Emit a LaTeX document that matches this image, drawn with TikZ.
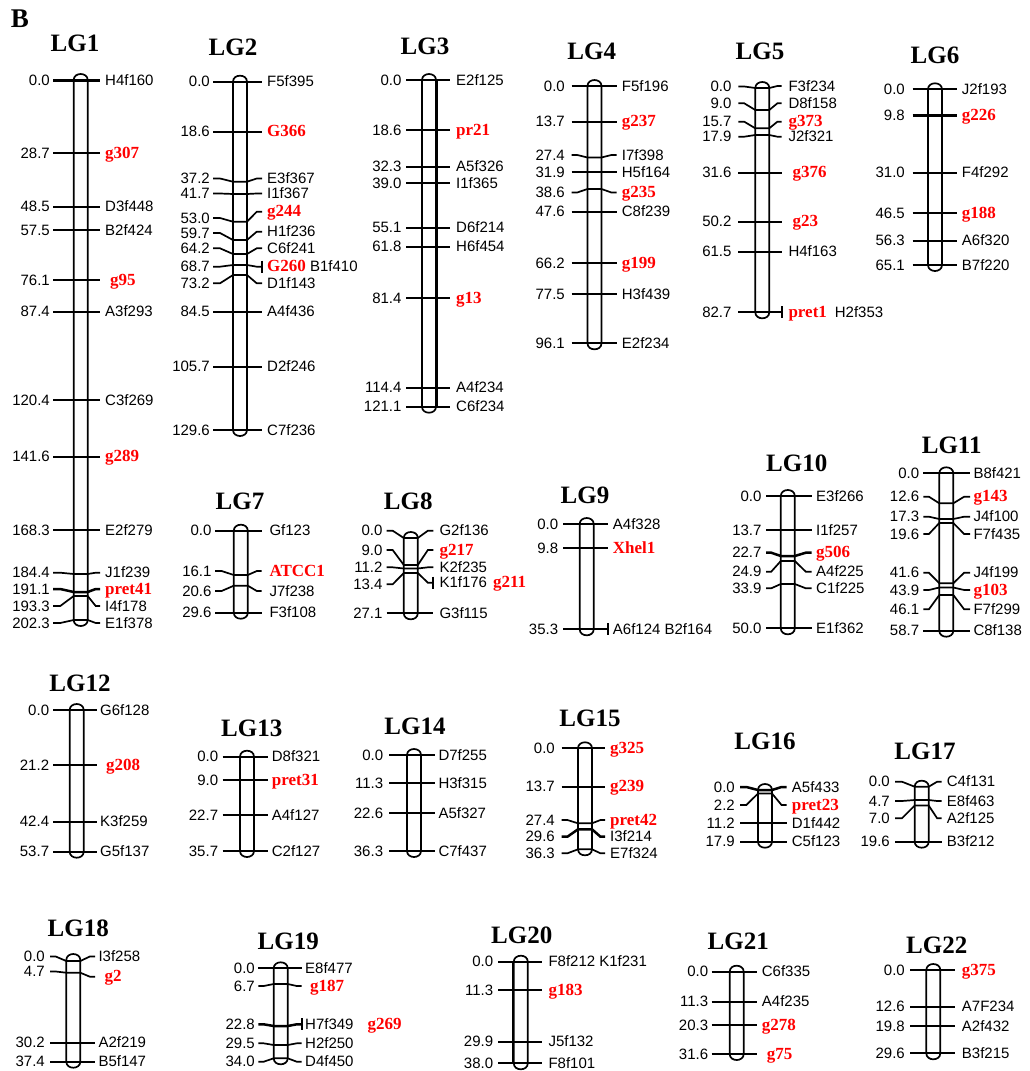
\documentclass[tikz,border=0pt]{standalone}
\usepackage{fontspec}
\setmainfont{Liberation Serif}
\newfontfamily\labfont{Liberation Sans}
\newcounter{mkc}
\tikzset{
 barline/.style={line width=1.7pt},
 tickline/.style={line width=1.7pt},
 thk/.style={line width=3pt},
 lab/.style={inner sep=0pt, text height=10pt, text depth=0pt, font=\labfont\fontsize{15}{15}\selectfont},
 ttl/.style={inner sep=0pt, text height=16pt, text depth=0pt, font=\bfseries\fontsize{25}{25}\selectfont},
}
\newcommand\rd[1]{{\rmfamily\bfseries\fontsize{17}{17}\selectfont\color{red}#1}}
\newcommand\setLG[5]{\def\cx{#1}\def\xa{#2}\def\xo{#3}\def\xt{#4}\def\xb{#5}}
\newcommand\chbar[2]{%
 \draw[barline] ({\cx-7},#1) -- ({\cx-7},#2) .. controls ({\cx-7},{#2+8}) and ({\cx+7},{#2+8}) .. ({\cx+7},#2) -- ({\cx+7},#1) .. controls ({\cx+7},{#1-8}) and ({\cx-7},{#1-8}) .. cycle;}
\newcommand\mk[6][]{%
 \stepcounter{mkc}\edef\nm{\arabic{mkc}}%
 \draw[tickline,#1] (\xo,#3) -- ({\xo+0.35*(\cx-7-\xo)},#3) -- ({\cx-7},#2) -- ({\cx+7},#2) -- ({\xt-0.35*(\xt-\cx-7)},#4) -- (\xt,#4);
 \node[lab,anchor=east] (L\nm) at (\xa,#3) {#5};
 \node[lab,anchor=west] (R\nm) at (\xb,#4) {#6};}
\newcommand\mks[4][]{\mk[#1]{#2}{#2}{#2}{#3}{#4}}
\newcommand\vb[1]{\draw[tickline] (\xt,{#1-6}) -- (\xt,{#1+6});}
\begin{document}
\begin{tikzpicture}[x=1pt,y=-1pt]
\useasboundingbox (0,0) rectangle (1029,1071);
\fill[white] (0,0) rectangle (1029,1071);
\node[inner sep=0pt, text height=18pt, text depth=0pt, font=\bfseries\fontsize{27}{27}\selectfont] (B) at (20,18) {B};
% LG1
\setLG{80.7}{50}{53}{100}{105}
\node[ttl] (T1) at (75,43) {LG1};
\chbar{80}{620}
\mks[thk]{80}{0.0}{H4f160}
\mks{153.3}{28.7}{\rd{g307}}
\mks{206.7}{48.5}{D3f448}
\mks{230}{57.5}{B2f424}
\mks{280}{76.1}{\hspace{5pt}\rd{g95}}
\mks{311.7}{87.4}{A3f293}
\mks{400}{120.4}{C3f269}
\mks{456.7}{141.6}{\rd{g289}}
\mks{530}{168.3}{E2f279}
\mk{574}{572.7}{572.7}{184.4}{J1f239}
\mk[line width=2.5pt]{592}{589}{589}{191.1}{\rd{pret41}}
\mk{596}{606}{606}{193.3}{I4f178}
\mk{620}{623}{623}{202.3}{E1f378}
% LG2
\setLG{240}{210}{213}{262}{267}
\node[ttl] (T2) at (233,47) {LG2};
\chbar{81.7}{430}
\mks{81.7}{0.0}{F5f395}
\mks{131.7}{18.6}{\rd{G366}}
\mk{181.7}{178.5}{178.5}{37.2}{E3f367}
\mk{194}{193.5}{193.5}{41.7}{I1f367}
\mk{221.7}{218}{211.7}{53.0}{\rd{g244}}
\mk{240}{233}{231.7}{59.7}{H1f236}
\mk{254}{248.3}{248.3}{64.2}{C6f241}
\mk{265}{266.7}{266.7}{68.7}{\rd{G260} B1f410}
\vb{266.7}
\mk{275}{283.3}{283.3}{73.2}{D1f143}
\mks{311.7}{84.5}{A4f436}
\mks{366.7}{105.7}{D2f246}
\mks{430}{129.6}{C7f236}
% LG3
\setLG{429}{401.7}{406}{450}{456}
\node[ttl] (T3) at (425,46.7) {LG3};
\chbar{80}{406.7}
\draw[line width=1.5pt] (437.5,80) -- (437.5,406.7);
\mks{80}{0.0}{E2f125}
\mks{130}{18.6}{\rd{pr21}}
\mks{166.7}{32.3}{A5f326}
\mks{183.3}{39.0}{I1f365}
\mks{227.7}{55.1}{D6f214}
\mks{246.7}{61.8}{H6f454}
\mks{298.3}{81.4}{\rd{g13}}
\mks{387.7}{114.4}{A4f234}
\mks{406.7}{121.1}{C6f234}
% LG4
\setLG{594.5}{565}{571.7}{616.7}{621.7}
\node[ttl] (T4) at (591.7,51.7) {LG4};
\chbar{86}{343.3}
\mks{86}{0.0}{F5f196}
\mks{121.7}{13.7}{\rd{g237}}
\mk{157.5}{155}{155}{27.4}{I7f398}
\mks{172.3}{31.9}{H5f164}
\mk{189}{192.5}{192.5}{38.6}{\rd{g235}}
\mks{211.7}{47.6}{C8f239}
\mks{263.3}{66.2}{\rd{g199}}
\mks{294}{77.5}{H3f439}
\mks{343.3}{96.1}{E2f234}
% LG5
\setLG{762.3}{731.7}{738.3}{781.7}{788.3}
\node[ttl] (T5) at (760,51.7) {LG5};
\chbar{88}{312.3}
\mk{88}{86.5}{86}{0.0}{F3f234}
\mk{110}{103.3}{103.3}{9.0}{D8f158}
\mk{128.3}{121.7}{121.7}{15.7}{\rd{g373}}
\mk{135}{136.7}{136.7}{17.9}{J2f321}
\mks{172.7}{31.6}{\hspace{4pt}\rd{g376}}
\mks{221.7}{50.2}{\hspace{4pt}\rd{g23}}
\mks{251.7}{61.5}{H4f163}
\mks{312.3}{82.7}{\rd{pret1}\hspace{8pt}H2f353}
\vb{312.3}
% LG6
\setLG{935}{905}{912.7}{956.7}{961.7}
\node[ttl] (T6) at (935,55) {LG6};
\chbar{89.3}{265}
\mks{89.3}{0.0}{J2f193}
\mks[thk]{115}{9.8}{\rd{g226}}
\mks{172.7}{31.0}{F4f292}
\mks{213.3}{46.5}{\rd{g188}}
\mks{240.7}{56.3}{A6f320}
\mks{265}{65.1}{B7f220}
% LG7
\setLG{240.8}{211.7}{215}{261.7}{269.3}
\node[ttl] (T7) at (240,501.7) {LG7};
\chbar{530.7}{612.7}
\mks{530.7}{0.0}{Gf123}
\mk{575}{571}{571}{16.1}{\rd{ATCC1}}
\mk{585.7}{591}{591}{20.6}{J7f238}
\mks{612.7}{29.6}{F3f108}
% LG8
\setLG{410.8}{382.7}{386.7}{433.3}{439.3}
\node[ttl] (T8) at (408.3,501.7) {LG8};
\chbar{538}{613.3}
\mk{538}{530.7}{530.7}{0.0}{G2f136}
\mk{565}{550}{550}{9.0}{\rd{g217}}
\mk{568.5}{567.3}{567.3}{11.2}{K2f235}
\mk{573}{584.3}{582.7}{13.4}{K1f176\hspace{6pt}\rd{g211}}
\vb{582.7}
\mks{613.3}{27.1}{G3f115}
% LG9
\setLG{586.7}{558.3}{563.3}{608.3}{612.7}
\node[ttl] (T9) at (585,495) {LG9};
\chbar{524}{629.3}
\mks{524}{0.0}{A4f328}
\mks{548.3}{9.8}{\rd{Xhel1}}
\mks{629.3}{35.3}{A6f124 B2f164}
\vb{629.3}
% LG10
\setLG{787.8}{761.7}{766}{811.7}{816}
\node[ttl] (T10) at (796.7,463.3) {LG10};
\chbar{496}{628.3}
\mks{496}{0.0}{E3f266}
\mks{530}{13.7}{I1f257}
\mk[line width=2.5pt]{556}{552.7}{552.7}{22.7}{\rd{g506}}
\mk{561}{571.7}{571.7}{24.9}{A4f225}
\mk{584}{588.3}{588.3}{33.9}{C1f225}
\mks{628.3}{50.0}{E1f362}
% LG11
\setLG{946.3}{919.3}{923.3}{970}{973.3}
\node[ttl] (T11) at (951.7,445) {LG11};
\chbar{473.3}{630.7}
\mks{473.3}{0.0}{B8f421}
\mk{503.3}{496.7}{496.7}{12.6}{\rd{g143}}
\mk{519}{516.7}{516.7}{17.3}{J4f100}
\mk{523}{534}{534}{19.6}{F7f435}
\mk{583.3}{572.7}{572.7}{41.6}{J4f199}
\mk{587.5}{590}{590}{43.9}{\rd{g103}}
\mk{595}{609.3}{609.3}{46.1}{F7f299}
\mks{630.7}{58.7}{C8f138}
% LG12
\setLG{76.7}{49.3}{53.3}{96.7}{100}
\node[ttl] (T12) at (80,683.3) {LG12};
\chbar{710}{851.7}
\mks{710}{0.0}{G6f128}
\mks{765}{21.2}{\hspace{6pt}\rd{g208}}
\mks{821.7}{42.4}{K3f259}
\mks{851.7}{53.7}{G5f137}
% LG13
\setLG{247}{218.3}{222.7}{268.3}{271.7}
\node[ttl] (T13) at (251.7,728.3) {LG13};
\chbar{756.7}{851}
\mks{756.7}{0.0}{D8f321}
\mks{780}{9.0}{\rd{pret31}}
\mks{815}{22.7}{A4f127}
\mks{851}{35.7}{C2f127}
% LG14
\setLG{414}{383.3}{389.3}{435}{438.3}
\node[ttl] (T14) at (415,726.7) {LG14};
\chbar{755}{851}
\mks{755}{0.0}{D7f255}
\mks{783.3}{11.3}{H3f315}
\mks{813.3}{22.6}{A5f327}
\mks{851}{36.3}{C7f437}
% LG15
\setLG{585}{555}{561.7}{605}{610}
\node[ttl] (T15) at (590,718.3) {LG15};
\chbar{748.3}{849.3}
\mks{748.3}{0.0}{\rd{g325}}
\mks{786.7}{13.7}{\rd{g239}}
\mk{823.3}{820}{820}{27.4}{\rd{pret42}}
\mk[line width=2.5pt]{829.3}{836.7}{836.7}{29.6}{I3f214}
\mk{849.3}{853.3}{853.3}{36.3}{E7f324}
% LG16
\setLG{765}{735}{740}{786.7}{791.7}
\node[ttl] (T16) at (765,741.7) {LG16};
\chbar{790}{841.7}
\mk[line width=2.5pt]{790}{787}{787}{0.0}{A5f433}
\mk{793.5}{805}{805}{2.2}{\rd{pret23}}
\mks{823.3}{11.2}{D1f442}
\mks{841.7}{17.9}{C5f123}
% LG17
\setLG{921.7}{890}{895}{941.7}{946.7}
\node[ttl] (T17) at (925,751.7) {LG17};
\chbar{786.7}{841.7}
\mk{786.7}{781.7}{781.7}{0.0}{C4f131}
\mk{800}{801}{801}{4.7}{E8f463}
\mk{805.5}{818.3}{818.3}{7.0}{A2f125}
\mks{841.7}{19.6}{B3f212}
% LG18
\setLG{73.3}{45}{50}{95}{98.3}
\node[ttl] (T18) at (78.3,928.3) {LG18};
\chbar{960}{1061.7}
\mk{961}{956.5}{956.5}{0.0}{I3f258}
\mk{972.7}{971.5}{976.7}{4.7}{\hspace{6pt}\rd{g2}}
\mks{1042.7}{30.2}{A2f219}
\mks{1061.7}{37.4}{B5f147}
% LG19
\setLG{280.7}{255}{258.3}{301.7}{305}
\node[ttl] (T19) at (288.3,941.7) {LG19};
\chbar{968.3}{1058.3}
\mks{968.3}{0.0}{E8f477}
\mk{984}{986}{986}{6.7}{\hspace{5pt}\rd{g187}}
\mk[line width=2.5pt]{1026}{1024.3}{1024.3}{22.8}{H7f349\hspace{14pt}\rd{g269}}
\vb{1024.3}
\mk{1045}{1043.3}{1043.3}{29.5}{H2f250}
\mk{1058.3}{1061.7}{1061.7}{34.0}{D4f450}
% LG20
\setLG{520.8}{493.3}{498.3}{541.7}{548.3}
\node[ttl] (T20) at (521.7,935) {LG20};
\chbar{961.7}{1063.3}
\draw[line width=1.5pt] (512.3,961.7) -- (512.3,1063.3);
\mks{961.7}{0.0}{F8f212 K1f231}
\mks{990}{11.3}{\rd{g183}}
\mks{1041.7}{29.9}{J5f132}
\mks{1063.3}{38.0}{F8f101}
% LG21
\setLG{736.7}{708.3}{711.7}{756.7}{761.7}
\node[ttl] (T21) at (738.3,941.7) {LG21};
\chbar{971.7}{1054}
\mks{971.7}{0.0}{C6f335}
\mks{1001.7}{11.3}{A4f235}
\mks{1025}{20.3}{\rd{g278}}
\mks{1054}{31.6}{\hspace{5pt}\rd{g75}}
% LG22
\setLG{933.3}{905}{910}{955}{961.7}
\node[ttl] (T22) at (936.7,945) {LG22};
\chbar{970}{1053.3}
\mks{970}{0.0}{\rd{g375}}
\mks{1006.7}{12.6}{A7F234}
\mks{1026}{19.8}{A2f432}
\mks{1053.3}{29.6}{B3f215}
\end{tikzpicture}
\end{document}
